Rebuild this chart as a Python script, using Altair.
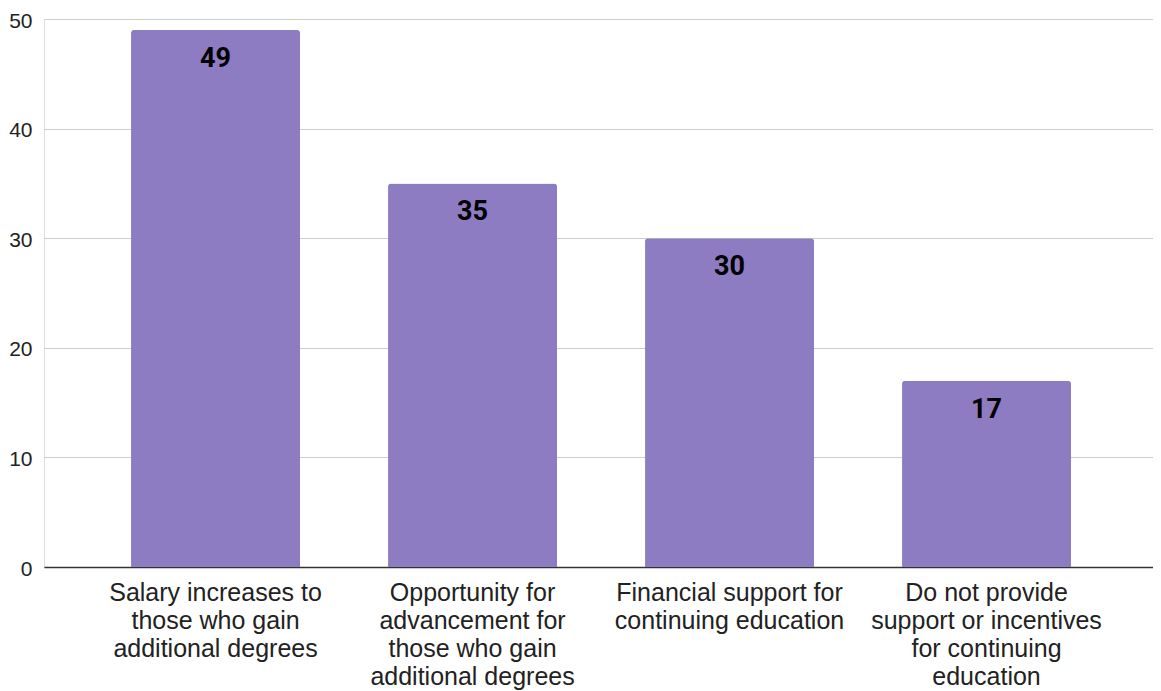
import altair as alt
import pandas as pd

categories = [
    "Salary increases to those who gain additional degrees",
    "Opportunity for advancement for those who gain additional degrees",
    "Financial support for continuing education",
    "Do not provide support or incentives for continuing education",
]
values = [49, 35, 30, 17]
label_lines = [
    ["Salary increases to", "those who gain", "additional degrees"],
    ["Opportunity for", "advancement for", "those who gain", "additional degrees"],
    ["Financial support for", "continuing education"],
    ["Do not provide", "support or incentives", "for continuing", "education"],
]
y_ticks = [0, 10, 20, 30, 40, 50]

df = pd.DataFrame({"category": categories, "value": values})

def js_str(s):
    return "'" + s.replace("'", "\\'") + "'"

expr = "''"
for cat, lines in reversed(list(zip(categories, label_lines))):
    arr = "[" + ",".join(js_str(l) for l in lines) + "]"
    expr = f"datum.value == {js_str(cat)} ? {arr} : ({expr})"

x_enc = alt.X(
    "category:N",
    sort=None,
    title=None,
    scale=alt.Scale(paddingInner=0.3424, paddingOuter=0.3288, align=0.515),
    axis=alt.Axis(
        labelAngle=0,
        labelExpr=expr,
        labelFont="Liberation Sans",
        labelFontSize=25,
        labelColor="#222222",
        labelLineHeight=28,
        labelBaseline="top",
        labelPadding=13,
        labelLimit=400,
        ticks=False,
        domainColor="#333333",
        domainWidth=1.5,
        grid=False,
    ),
)

y_enc = alt.Y(
    "value:Q",
    title=None,
    scale=alt.Scale(domain=[0, 50], nice=False),
    axis=alt.Axis(
        values=y_ticks,
        labelFont="Liberation Sans",
        labelFontSize=21,
        labelColor="#222222",
        labelPadding=12,
        labelOffset=2,
        ticks=False,
        domain=False,
        gridColor="#cccccc",
        gridWidth=1,
    ),
)

bars = alt.Chart(df).mark_bar(
    color="#8e7cc3",
    cornerRadiusTopLeft=3,
    cornerRadiusTopRight=3,
).encode(x=x_enc, y=y_enc)

labels = alt.Chart(df).mark_text(
    font="Roboto",
    fontSize=27,
    fontWeight="bold",
    color="#000000",
    baseline="alphabetic",
    dy=37,
).encode(x=alt.X("category:N", sort=None), y=alt.Y("value:Q"), text=alt.Text("value:Q"))

chart = (
    alt.layer(bars, labels)
    .properties(
        width=1109,
        height=548,
        padding={"left": 36, "top": 11, "right": 0, "bottom": 130},
        autosize=alt.AutoSizeParams(type="none"),
    )
    .configure_view(stroke=None)
    .configure(background="white")
)

chart.save("out.html", embed_options={"renderer": "svg", "actions": False})
